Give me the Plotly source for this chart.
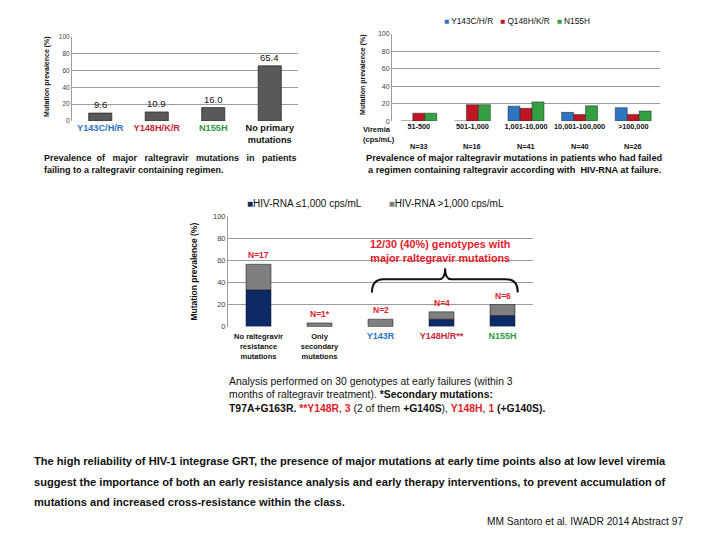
import plotly.graph_objects as go

# ---------------- data ----------------
c1_cats = ["Y143C/H/R", "Y148H/K/R", "N155H", "No primary mutations"]
c1_vals = [9.6, 10.9, 16.0, 65.4]
c1_labels = ["9.6", "10.9", "16.0", "65.4"]
c1_ticktext = ["<span style='color:#2E75C2'>Y143C/H/R</span>",
               "<span style='color:#C0283A'>Y148H/K/R</span>",
               "<span style='color:#2E9A44'>N155H</span>",
               "No primary<br>mutations"]

c2_cats = ["51-500", "501-1,000", "1,001-10,000", "10,001-100,000", ">100,000"]
c2_n = ["N=33", "N=16", "N=41", "N=40", "N=26"]
c2_y143 = [0, 0, 17.1, 10.0, 15.4]
c2_q148 = [9.1, 18.8, 14.6, 7.5, 7.7]
c2_n155 = [9.1, 18.8, 22.0, 17.5, 11.5]
c2_series = ["Y143C/H/R", "Q148H/K/R", "N155H"]

c3_cats = ["No raltegravir resistance mutations", "Only secondary mutations",
           "Y143R", "Y148H/R**", "N155H"]
c3_low = [33.3, 0, 0, 6.7, 10.0]
c3_high = [23.3, 3.3, 6.7, 6.7, 10.0]
c3_total = [56.7, 3.3, 6.7, 13.3, 20.0]
c3_n = ["N=17", "N=1*", "N=2", "N=4", "N=6"]
c3_ticktext = ["No raltegravir<br>resistance<br>mutations",
               "Only<br>secondary<br>mutations",
               "<span style='color:#2E75C2;font-size:9px'>Y143R</span>",
               "<span style='color:#C0283A;font-size:9px'>Y148H/R**</span>",
               "<span style='color:#2E9A44;font-size:9px'>N155H</span>"]
c3_series = ["HIV-RNA ≤1,000 cps/mL", "HIV-RNA >1,000 cps/mL"]

# ---------------- style ----------------
OFF = 8                      # default body margin of the html page
W, H = 720 - OFF, 540 - OFF
FONT = "Liberation Sans, Arial, sans-serif"
BLUE, RED, GREEN = "#2E75C2", "#BE1622", "#35A043"
NAVY, GRAY, DGRAY = "#0E2A66", "#7F7F7F", "#595959"
RED_TXT = "#E3202B"
GRID = "#9C9C9C"


def px(x):
    return (x - OFF) / W


def py(y):
    return 1 - (y - OFF) / H


fig = go.Figure()

# chart 1
fig.add_trace(go.Bar(x=c1_cats, y=c1_vals, width=0.41, xaxis="x", yaxis="y",
                     marker=dict(color=DGRAY, line=dict(color="#111111", width=0.6)),
                     showlegend=False, hoverinfo="skip"))
# chart 2
for vals, col, name in zip([c2_y143, c2_q148, c2_n155], [BLUE, RED, GREEN], c2_series):
    fig.add_trace(go.Bar(x=c2_cats, y=vals, name=name, xaxis="x2", yaxis="y2",
                         marker=dict(color=col, line=dict(color="#222222", width=0.5)),
                         showlegend=False, hoverinfo="skip"))
# chart 3 (stacked through base)
fig.add_trace(go.Bar(x=c3_cats, y=c3_low, name=c3_series[0], width=0.41, offsetgroup="s",
                     xaxis="x3", yaxis="y3",
                     marker=dict(color=NAVY, line=dict(color="#111111", width=0.5)),
                     showlegend=False, hoverinfo="skip"))
fig.add_trace(go.Bar(x=c3_cats, y=c3_high, base=c3_low, name=c3_series[1], width=0.41,
                     offsetgroup="s", xaxis="x3", yaxis="y3",
                     marker=dict(color=GRAY, line=dict(color="#111111", width=0.5)),
                     showlegend=False, hoverinfo="skip"))


def yax(dom, size):
    return dict(domain=dom, range=[0, 100], dtick=20, showgrid=True, gridcolor=GRID,
                gridwidth=1, showline=True, linecolor=GRID, linewidth=1, zeroline=False,
                ticks="", tickfont=dict(size=size, color="#404040", family=FONT),
                fixedrange=True)


def xax(dom, anchor, size, **kw):
    d = dict(domain=dom, anchor=anchor, type="category", showgrid=False, showline=False,
             ticks="", zeroline=False, tickfont=dict(size=size, color="#111111", family=FONT),
             fixedrange=True)
    d.update(kw)
    return d


fig.update_layout(
    width=W, height=H, margin=dict(l=0, r=0, t=0, b=0),
    paper_bgcolor="white", plot_bgcolor="white",
    barmode="group", bargap=0.33, bargroupgap=0,
    font=dict(family=FONT, color="#111111"),
    xaxis=xax([px(72), px(298)], "y", 9.2, tickvals=c1_cats,
              ticktext=["<b>" + t + "</b>" for t in c1_ticktext]),
    yaxis=yax([py(119), py(33)], 6.5),
    xaxis2=xax([px(392), px(660)], "y2", 7.3, tickvals=c2_cats,
               ticktext=["<b>" + t + "</b>" for t in c2_cats]),
    yaxis2=dict(yax([py(119), py(30)], 7), anchor="x2"),
    xaxis3=xax([px(228), px(533)], "y3", 7.5, tickvals=c3_cats, ticklabelstandoff=4,
               ticktext=["<b>" + t + "</b>" for t in c3_ticktext]),
    yaxis3=dict(yax([py(328), py(216)], 7.5), anchor="x3"),
)
fig.layout.yaxis.anchor = "x"

ann = []


def A(text, x, y, size, color="#111111", xanchor="left", yanchor="middle", bold=False,
      angle=0, xref="paper", yref="paper", yshift=0, align="left"):
    t = "<b>" + text + "</b>" if bold else text
    ann.append(dict(text=t, x=x, y=y, xref=xref, yref=yref, xanchor=xanchor,
                    yanchor=yanchor, showarrow=False, textangle=angle, yshift=yshift,
                    align=align, borderpad=0,
                    font=dict(size=size, color=color, family=FONT)))


# chart 1 labels
for c, v, l in zip(c1_cats, c1_vals, c1_labels):
    A(l, c, v, 9.5, xref="x", yref="y", xanchor="center", yanchor="bottom", yshift=2)
A("Mutation prevalence (%)", px(47), py(74), 7, bold=True, angle=-90, xanchor="center")
A("Prevalence  of   major   raltegravir   mutations   in   patients", px(43), py(157), 9,
  bold=True)
A("failing to a raltegravir containing regimen.", px(43), py(169), 9, bold=True)

# chart 2 labels
A("Mutation prevalence (%)", px(363), py(72), 7, bold=True, angle=-90, xanchor="center")
legend2 = "   ".join("<span style='color:%s'>■</span> %s" % (c, n)
                     for c, n in zip([BLUE, RED, GREEN], c2_series))
A(legend2, px(443), py(17), 8.3)
A("Viremia<br>(cps/mL)", px(362), py(133), 7.5, bold=True)
for c, n in zip(c2_cats, c2_n):
    A(n, c, py(145), 7.3, xref="x2", xanchor="center", bold=True)
A("Prevalence of major raltegravir mutations in patients who had failed", px(514), py(157),
  9.2, bold=True, xanchor="center")
A("a regimen containing raltegravir according with  HIV-RNA at failure.", px(514), py(169),
  9.2, bold=True, xanchor="center")

# chart 3 labels
A("Mutation prevalence (%)", px(194), py(272), 8.5, bold=True, angle=-90, xanchor="center")
legend3 = "<span style='color:%s'>■</span>%s          <span style='color:%s'>■</span>%s" % (
    NAVY, c3_series[0], GRAY, c3_series[1])
A(legend3, px(246), py(203), 10)
for c, t, n in zip(c3_cats, c3_total, c3_n):
    A(n, c, t, 8.5, color=RED_TXT, xref="x3", yref="y3", xanchor="center",
      yanchor="bottom", yshift=3, bold=True)
A("12/30 (40%) genotypes with<br>major raltegravir mutations", px(440), py(251), 10.8,
  color=RED_TXT, bold=True, xanchor="center", align="center")

# notes under chart 3
A("Analysis performed on 30 genotypes at early failures (within 3", px(228), py(384), 10.4)
A("months of raltegravir treatment). <b>*Secondary mutations:</b>", px(228), py(397), 10.4)
A("<b>T97A+G163R.</b> <span style='color:%s'><b>**Y148R</b></span>, "
  "<span style='color:%s'><b>3</b></span> (2 of them <b>+G140S</b>), "
  "<span style='color:%s'><b>Y148H</b></span>, <span style='color:%s'><b>1</b></span>"
  " <b>(+G140S).</b>" % (RED_TXT, RED_TXT, RED_TXT, RED_TXT), px(228), py(411), 10.4)

# conclusion
A("The high reliability of HIV-1 integrase GRT, the presence of major mutations at early "
  "time points also at low level viremia", px(33), py(465), 11.1, bold=True)
A("suggest the importance of both an early resistance analysis and early therapy "
  "interventions, to prevent accumulation of", px(33), py(486), 11.1, bold=True)
A("mutations and increased cross-resistance within the class.", px(33), py(506), 11.1,
  bold=True)
A("MM Santoro et al. IWADR 2014 Abstract 97", px(486), py(526), 10.2)

# brace over major mutations (chart 3)
brace = ("M 1.86,31 Q 1.86,43 2.05,43 L 2.96,43 Q 3.06,43 3.06,53 "
         "Q 3.06,43 3.16,43 L 4.06,43 Q 4.25,43 4.25,31")
fig.add_shape(type="path", path=brace, xref="x3", yref="y3",
              line=dict(color="#111111", width=2))

fig.update_layout(annotations=ann)
fig.write_html("out.html")
